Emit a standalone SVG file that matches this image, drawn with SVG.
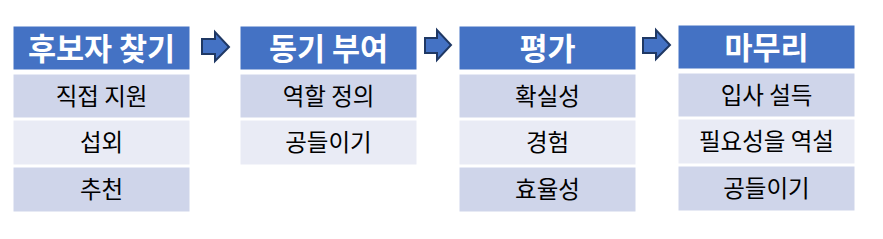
<svg xmlns="http://www.w3.org/2000/svg" width="883" height="239" viewBox="0 0 883 239">
<style>
.hd{fill:#4472C4;stroke:#ffffff;stroke-width:1}
.r1{fill:#CFD5EA;stroke:#ffffff;stroke-width:1}
.r2{fill:#E9EBF5;stroke:#ffffff;stroke-width:1}
.ht{font-family:"Noto Sans CJK KR","Noto Sans",sans-serif;font-weight:bold;font-size:30.5px;fill:#ffffff;text-anchor:middle;dominant-baseline:central}
.bt{font-family:"Noto Sans CJK KR","Noto Sans",sans-serif;font-size:23.5px;fill:#000000;text-anchor:middle;dominant-baseline:central}
.ar{fill:#4472C4;stroke:#1F3864;stroke-width:2;stroke-linejoin:miter}
</style>
<rect width="883" height="239" fill="#ffffff"/>
<g id="col1">
<rect class="hd" x="13" y="26" width="177" height="44"/>
<text class="ht" x="101.5" y="46.5">후보자 찾기</text>
<rect class="r1" x="13" y="74" width="177" height="44"/>
<text class="bt" x="101.5" y="95">직접 지원</text>
<rect class="r2" x="13" y="120" width="177" height="45"/>
<text class="bt" x="101.5" y="141">섭외</text>
<rect class="r1" x="13" y="167" width="177" height="45"/>
<text class="bt" x="101.5" y="188">추천</text>
</g>
<g id="col2">
<rect class="hd" x="240" y="26" width="177" height="44"/>
<text class="ht" x="328.5" y="46.5">동기 부여</text>
<rect class="r1" x="240" y="74" width="177" height="44"/>
<text class="bt" x="328.5" y="95">역할 정의</text>
<rect class="r2" x="240" y="120" width="177" height="45"/>
<text class="bt" x="328.5" y="141">공들이기</text>
</g>
<g id="col3">
<rect class="hd" x="459" y="26" width="177" height="44"/>
<text class="ht" x="547.5" y="46.5">평가</text>
<rect class="r1" x="459" y="74" width="177" height="44"/>
<text class="bt" x="547.5" y="95">확실성</text>
<rect class="r2" x="459" y="120" width="177" height="45"/>
<text class="bt" x="547.5" y="141">경험</text>
<rect class="r1" x="459" y="167" width="177" height="45"/>
<text class="bt" x="547.5" y="188">효율성</text>
</g>
<g id="col4">
<rect class="hd" x="678" y="25" width="177" height="44"/>
<text class="ht" x="766.5" y="45.5">마무리</text>
<rect class="r1" x="678" y="73" width="177" height="44"/>
<text class="bt" x="766.5" y="94">입사 설득</text>
<rect class="r2" x="678" y="119" width="177" height="45"/>
<text class="bt" x="766.5" y="140">필요성을 역설</text>
<rect class="r1" x="678" y="166" width="177" height="45"/>
<text class="bt" x="766.5" y="187">공들이기</text>
</g>
<g id="connectors">
<polygon class="ar" points="202,39 215,39 215,32 229,47 215,61 215,54 202,54"/>
<polygon class="ar" points="425,38 437,38 437,30 451,45 437,60 437,53 425,53"/>
<polygon class="ar" points="643,38 656,38 656,30 670,45 656,59 656,53 643,53"/>
</g>
</svg>
